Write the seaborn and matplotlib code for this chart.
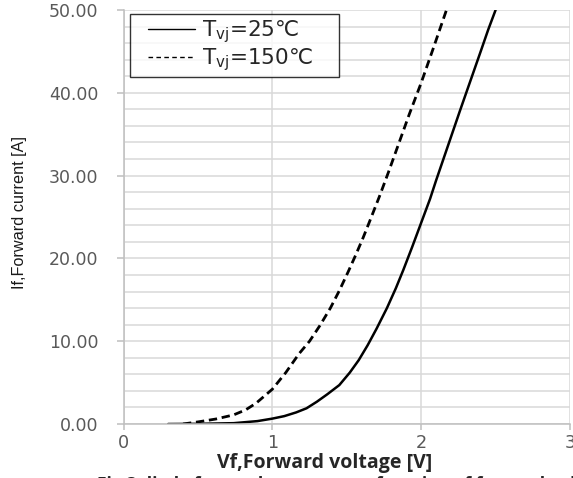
import matplotlib
matplotlib.use("Agg")
import matplotlib.pyplot as plt
from matplotlib.ticker import MultipleLocator, FormatStrFormatter
from matplotlib.legend_handler import HandlerLine2D
from matplotlib.lines import Line2D
import seaborn as sns
import pandas as pd

# --- Data ---
V_25 = [0.30, 0.50, 0.74, 0.90, 1.00, 1.08, 1.16, 1.23, 1.30, 1.37, 1.45, 1.52,
        1.58, 1.64, 1.70, 1.77, 1.83, 1.88, 1.94, 2.00, 2.06, 2.10, 2.18, 2.26,
        2.33, 2.40, 2.45, 2.50]
I_25 = [0.0, 0.02, 0.10, 0.35, 0.65, 0.95, 1.4, 1.9, 2.7, 3.6, 4.7, 6.2,
        7.7, 9.5, 11.5, 14.0, 16.4, 18.6, 21.4, 24.3, 27.2, 29.4, 33.6, 37.8,
        41.4, 45.0, 47.6, 50.0]

V_150 = [0.40, 0.51, 0.62, 0.74, 0.82, 0.89, 1.00, 1.09, 1.18, 1.25, 1.32, 1.39,
         1.45, 1.51, 1.56, 1.61, 1.65, 1.72, 1.78, 1.85, 1.92, 2.00, 2.08, 2.17]
I_150 = [0.0, 0.28, 0.60, 1.1, 1.7, 2.5, 4.2, 6.2, 8.5, 10.0, 11.9, 14.0,
         16.1, 18.4, 20.4, 22.5, 24.3, 27.5, 30.4, 33.9, 37.4, 41.2, 45.3, 50.0]

LABELS = [r"T$_{\mathregular{vj}}$=25℃", r"T$_{\mathregular{vj}}$=150℃"]
X_TICKS = [0, 1, 2, 3]
Y_TICKS = [0, 10, 20, 30, 40, 50]

df_25 = pd.DataFrame({"V": V_25, "I": I_25})
df_150 = pd.DataFrame({"V": V_150, "I": I_150})

sns.set_theme(style="white")
plt.rcParams["font.family"] = ["DejaVu Sans"]
plt.rcParams["mathtext.fontset"] = "dejavusans"

fig = plt.figure(figsize=(5.73, 4.78), dpi=100)
ax = fig.add_axes([123.5 / 573, 1 - 424 / 478, (570 - 123.5) / 573, (424 - 10) / 478])

grid_c = "#d9d9d9"
ax.set_xlim(0, 3)
ax.set_ylim(0, 50)
ax.set_xticks(X_TICKS)
ax.set_yticks(Y_TICKS)
ax.yaxis.set_minor_locator(MultipleLocator(2))
ax.yaxis.set_major_formatter(FormatStrFormatter("%.2f"))
ax.grid(which="major", axis="x", color=grid_c, lw=1.1)
ax.grid(which="both", axis="y", color=grid_c, lw=1.1)
ax.set_axisbelow(True)

sns.lineplot(data=df_25, x="V", y="I", ax=ax, color="black", lw=1.8,
             sort=False, estimator=None, label=LABELS[0] + "    ")
sns.lineplot(data=df_150, x="V", y="I", ax=ax, color="black", lw=2.0,
             sort=False, estimator=None, label=LABELS[1] + "    ")
ax.lines[1].set_dashes([3.0, 1.7])

for s in ["top", "right"]:
    ax.spines[s].set_visible(False)
for s in ["left", "bottom"]:
    ax.spines[s].set_color("#bfbfbf")
    ax.spines[s].set_linewidth(1.1)

ax.tick_params(axis="y", which="major", length=5, width=1.1, color="#bfbfbf",
               left=True, pad=13, labelsize=12.5, labelcolor="#595959")
ax.tick_params(axis="y", which="minor", length=0)
ax.tick_params(axis="x", which="major", length=4, width=1.1, color="#bfbfbf",
               bottom=True, pad=3, labelsize=12.7, labelcolor="#595959")

ax.set_xlabel("Vf,Forward voltage [V]", fontsize=14, fontweight="bold",
              family=["Open Sans", "DejaVu Sans"], color="#262626")
ax.xaxis.set_label_coords((325 - 123.5) / (570 - 123.5), -0.07)
ax.set_ylabel("If,Forward current [A]", fontsize=11.7,
              family=["Liberation Sans Narrow", "Liberation Sans"], color="#1a1a1a")
ax.yaxis.set_label_coords(-(123.5 - 27) / (570 - 123.5), 0.51)

leg = ax.legend(loc="upper left", bbox_to_anchor=(0.015, 0.99),
                prop={"family": "DejaVu Sans", "size": 15.5},
                handler_map={Line2D: HandlerLine2D(xpad=0.64)},
                frameon=True, fancybox=False, handlelength=2.8, handletextpad=0.35,
                borderpad=0.2, labelspacing=0.05, borderaxespad=0.0)
leg.get_frame().set_edgecolor("black")
leg.get_frame().set_linewidth(1.0)
for t in leg.get_texts():
    t.set_color("#262626")
leg.get_lines()[0].set_linewidth(1.0)
leg.get_lines()[1].set_linewidth(1.0)
leg.get_lines()[1].set_dashes([3.3, 2.4])

fig.text(97 / 573, 1 - 476 / 478, "Fig.3 diode forward current as a function of forward voltage",
         ha="left", va="top", fontsize=12.5, fontweight="bold",
         family=["Open Sans", "DejaVu Sans"], color="#262626")

fig.savefig("out.png", dpi=100)
